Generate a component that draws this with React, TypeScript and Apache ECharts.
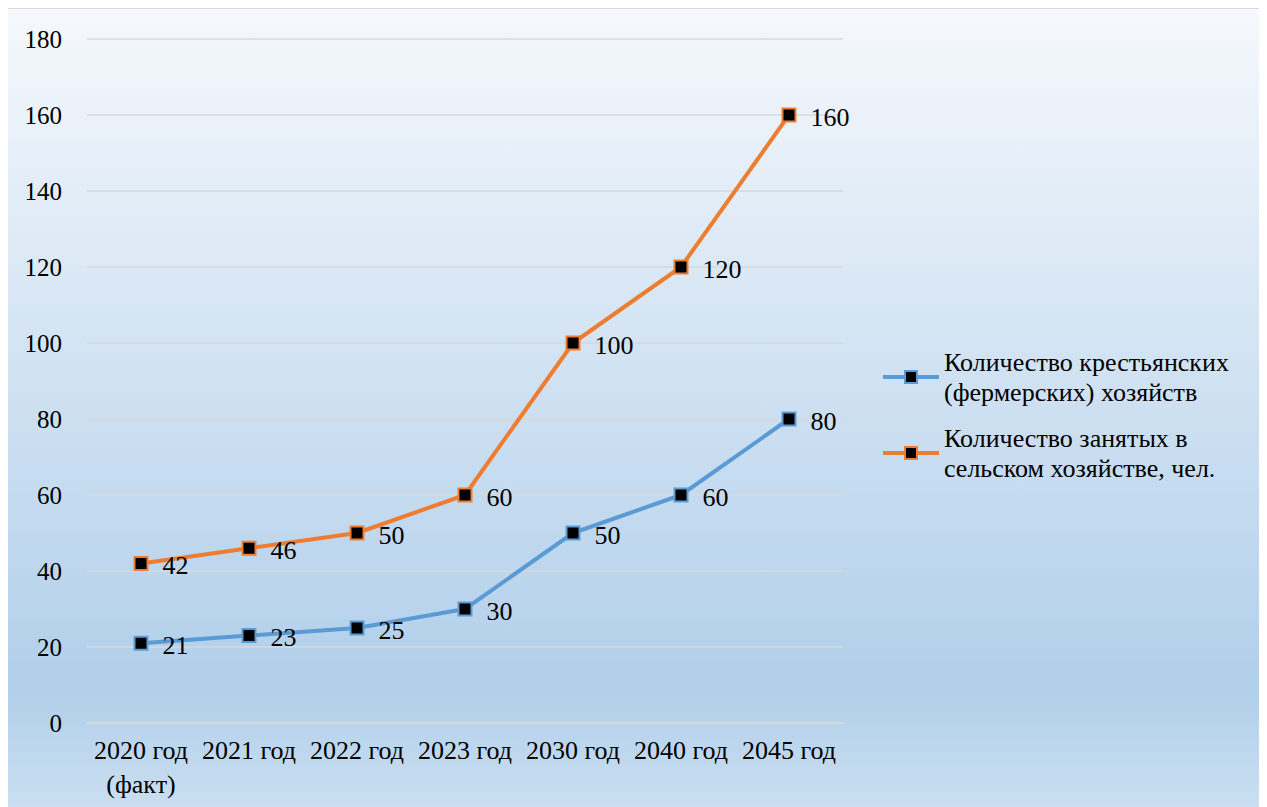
import React, { useEffect, useRef } from "react";
import * as echarts from "echarts";

const categories = ["2020 год\n(факт)", "2021 год", "2022 год", "2023 год", "2030 год", "2040 год", "2045 год"];
const farmsName = "Количество крестьянских\n(фермерских) хозяйств";
const workersName = "Количество занятых в\nсельском хозяйстве, чел.";
const farms = [21, 23, 25, 30, 50, 60, 80];
const workers = [42, 46, 50, 60, 100, 120, 160];
const yTicks = { min: 0, max: 180, interval: 20 };

const FONT = "Liberation Serif";

export default function App() {
  const ref = useRef<HTMLDivElement>(null);
  useEffect(() => {
    if (!ref.current) return;
    const chart = echarts.init(ref.current, undefined, { renderer: "svg" });
    const label = {
      show: true,
      position: "right" as const,
      distance: 14,
      offset: [0, 2],
      color: "#000",
      fontFamily: FONT,
      fontSize: 26,
    };
    const mk = (name: string, data: number[], color: string) => ({
      name,
      type: "line",
      data,
      symbol: "rect",
      symbolSize: 13,
      lineStyle: { color, width: 4 },
      itemStyle: { color: "#000", borderColor: color, borderWidth: 2 },
      label,
      z: 3,
    });
    chart.setOption({
      animation: false,
      backgroundColor: "transparent",
      textStyle: { fontFamily: FONT },
      grid: { left: 79, top: 30, width: 756, height: 684 },
      legend: {
        orient: "vertical",
        left: 868,
        top: 318,
        itemWidth: 56,
        itemHeight: 15,
        itemGap: -14,
        lineStyle: { width: 4 },
        textStyle: {
          fontFamily: FONT,
          fontSize: 26,
          color: "#000",
          lineHeight: 30,
          padding: [30, 0, 0, 0],
        },
        data: [farmsName, workersName],
      },
      xAxis: {
        type: "category",
        data: categories,
        boundaryGap: true,
        axisLine: { show: true, lineStyle: { color: "#d9d9d9", width: 1.5 } },
        axisTick: { show: false },
        axisLabel: {
          color: "#000",
          fontFamily: FONT,
          fontSize: 26,
          lineHeight: 34,
          margin: 10,
          interval: 0,
        },
      },
      yAxis: {
        type: "value",
        min: yTicks.min,
        max: yTicks.max,
        interval: yTicks.interval,
        axisLine: { show: false },
        axisTick: { show: false },
        splitLine: { lineStyle: { color: "#d9d9d9", width: 1.5 } },
        axisLabel: { color: "#000", fontFamily: FONT, fontSize: 25, margin: 25 },
      },
      series: [mk(farmsName, farms, "#5b9bd5"), mk(workersName, workers, "#ed7d31")],
    });
    return () => chart.dispose();
  }, []);
  return (
    <div
      style={{
        width: 1253,
        height: 800,
        marginLeft: -1,
        border: "1px solid #d9d9d9",
        background: "linear-gradient(to bottom, #f5f8fc 0px, #b1cfea 680px, #cadff1 800px)",
      }}
    >
      <div ref={ref} style={{ width: 1253, height: 800 }} />
    </div>
  );
}
